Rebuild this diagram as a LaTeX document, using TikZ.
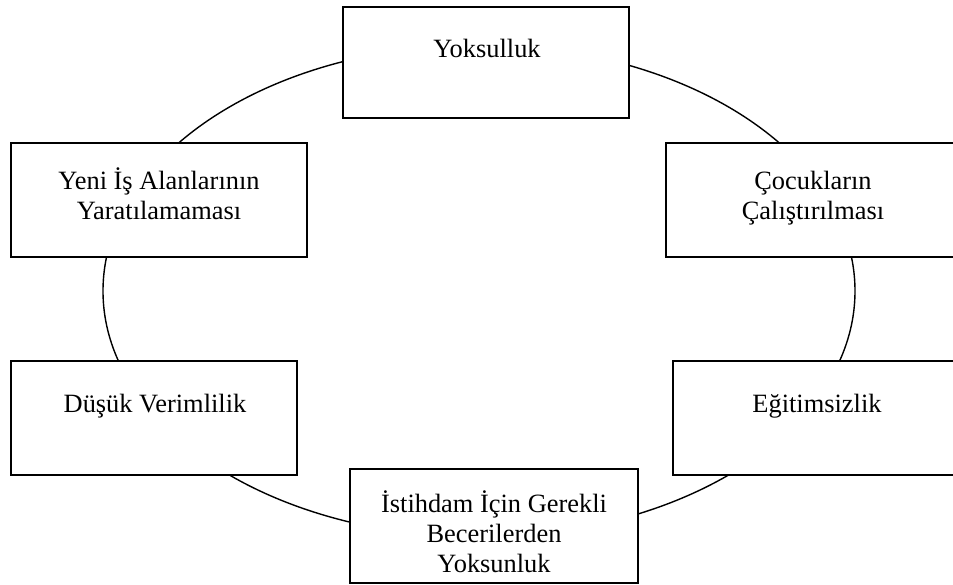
\documentclass[tikz,border=0pt]{standalone}
\usepackage{fontspec}
\setmainfont{Liberation Serif}
\begin{document}
\begin{tikzpicture}[x=1pt,y=-1pt,
  box/.style={draw=black, line width=2pt, fill=white, rectangle, inner sep=0pt},
  lbl/.style={inner sep=0pt, align=center, font=\fontsize{26.4}{30}\selectfont, anchor=base},
  ring/.style={draw=black, line width=1.4pt}]
\useasboundingbox (0,0) rectangle (953,585);
\fill[white] (0,0) rectangle (953,585);
\coordinate (c) at (479,291);
\draw[ring] (c) ellipse [x radius=376pt, y radius=246pt];
% boxes
\node[box, minimum width=286pt, minimum height=111pt] (yok) at (486,62.5) {};
\node[box, minimum width=295pt, minimum height=114pt] (coc) at (813.5,200) {};
\node[box, minimum width=288pt, minimum height=114pt] (edu) at (817,418) {};
\node[box, minimum width=288pt, minimum height=114pt] (ist) at (494,526) {};
\node[box, minimum width=286pt, minimum height=114pt] (dus) at (154,418) {};
\node[box, minimum width=296pt, minimum height=114pt] (yeni) at (159,200) {};
% labels (base = baseline of the last line)
\node[lbl] (yokt) at (487,58) {Yoksulluk};
\node[lbl] (coct) at (813,220) {Çocukların\\Çalıştırılması};
\node[lbl] (edut) at (817,412) {Eğitimsizlik};
\node[lbl] (istt) at (494,572) {İstihdam İçin Gerekli\\Becerilerden\\Yoksunluk};
\node[lbl] (dust) at (155,412) {Düşük Verimlilik};
\node[lbl] (yenit) at (159,220) {Yeni İş Alanlarının\\Yaratılamaması};
\end{tikzpicture}
\end{document}
